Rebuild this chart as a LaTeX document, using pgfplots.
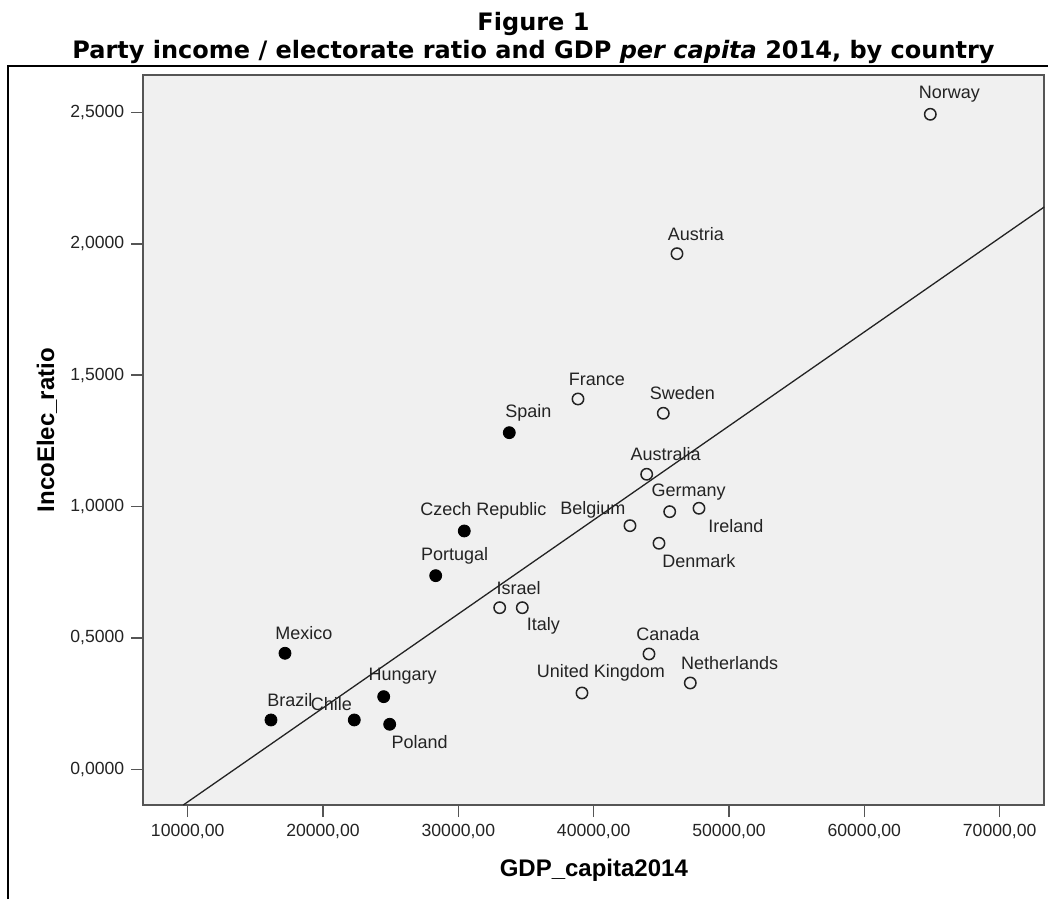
\documentclass[border=0pt]{standalone}
\usepackage{pgfplots}
\pgfplotsset{compat=1.18}
\usepackage{pgfplotstable}
\usepackage{fontspec}
\setmainfont{Liberation Sans}
\newfontfamily\titlefont{DejaVu Sans}
\definecolor{plotbg}{RGB}{240,240,240}
\definecolor{boxline}{RGB}{85,85,85}
\definecolor{ink}{RGB}{35,35,35}

% x = GDP per capita 2014, y = party income / electorate; dx, dy = label offset (pt)
\pgfplotstableread[col sep=comma]{
x,y,dx,dy,label
33764,1.2813,9.5,10,Spain
30439,0.9071,9.5,10,Czech Republic
28326,0.7370,9.5,10,Portugal
17190,0.4416,9.5,10,Mexico
24483,0.2764,9.5,10,Hungary
16155,0.1877,9.5,10,Brazil
22311,0.1877,-11.5,8,Chile
24927,0.1713,15,-8.7,Poland
}\filled

\pgfplotstableread[col sep=comma]{
x,y,dx,dy,label
64874,2.4933,9.5,10,Norway
46156,1.9627,9.5,10,Austria
38841,1.4096,9.5,10,France
45144,1.3552,9.5,10,Sweden
43917,1.1230,9.5,10,Australia
45617,0.9806,9.5,10,Germany
47782,0.9935,18.5,-9,Ireland
42683,0.9273,-18.5,8,Belgium
44826,0.8603,20,-9,Denmark
33055,0.6151,9.5,10,Israel
34725,0.6151,10.5,-9,Italy
44087,0.4389,9.5,10,Canada
39136,0.2904,9.5,10,United Kingdom
47139,0.3285,19.7,9.85,Netherlands
}\hollow

\pgfplotsset{
  country labels/.style={
    nodes near coords={\pgfplotspointmeta},
    point meta=explicit symbolic,
    visualization depends on={\thisrow{dx} \as \dx},
    visualization depends on={\thisrow{dy} \as \dy},
    every node near coord/.style={anchor=center, inner sep=0pt, xshift=\dx pt, yshift=\dy pt,
      font=\fontsize{9}{10}\selectfont, text=ink},
  },
}

\begin{document}
\begin{tikzpicture}[x=1pt,y=1pt]
\useasboundingbox (0,0) rectangle (524,449.5);
\draw[line width=1pt, black] (4,0) -- (4,416.5) -- (524,416.5);
\node[font=\titlefont\bfseries\fontsize{12}{14}\selectfont, anchor=base, inner sep=0pt]
  at (266.75,434.15) {Figure 1};
\node[font=\titlefont\bfseries\fontsize{12}{14}\selectfont, anchor=base, inner sep=0pt]
  at (266.75,420.35) {Party income / electorate ratio and GDP \textit{per capita} 2014, by country};
\begin{axis}[
  at={(71.65pt,47pt)}, anchor=south west,
  scale only axis, width=450.5pt, height=364.75pt,
  xmin=6720, xmax=73300, ymin=-0.136, ymax=2.641,
  axis background/.style={fill=plotbg},
  axis line style={boxline, line width=1pt},
  xtick={10000,20000,...,70000},
  ytick={0,0.5,...,2.5},
  tick align=outside, major tick length=6pt,
  tick style={boxline, line width=0.75pt},
  xtick pos=bottom, ytick pos=left,
  /pgf/number format/assume math mode=true,
  x tick label style={/pgf/number format/.cd, fixed, fixed zerofill, precision=2, use comma, 1000 sep={}},
  y tick label style={/pgf/number format/.cd, fixed, fixed zerofill, precision=4, use comma, 1000 sep={}},
  scaled ticks=false,
  tick label style={font=\fontsize{8.8}{10}\selectfont, text=ink},
  xlabel={GDP\_capita2014},
  ylabel={IncoElec\_ratio},
  label style={font=\bfseries\fontsize{12}{14}\selectfont, text=black},
  x label style={at={(axis description cs:0.5,-0.0987)}, anchor=base},
  y label style={at={(axis description cs:-0.1069,0.514)}, anchor=center},
  clip mode=individual,
]
\addplot[ink, line width=0.65pt, no marks] coordinates {(9675,-0.136) (73296,2.1405)};
\addplot[only marks, mark=*, mark size=3pt, mark options={fill=black, draw=black}, country labels]
  table[x=x, y=y, meta=label] {\filled};
\addplot[only marks, mark=o, mark size=2.85pt, mark options={draw=ink, line width=0.75pt}, country labels]
  table[x=x, y=y, meta=label] {\hollow};
\end{axis}
\end{tikzpicture}
\end{document}
